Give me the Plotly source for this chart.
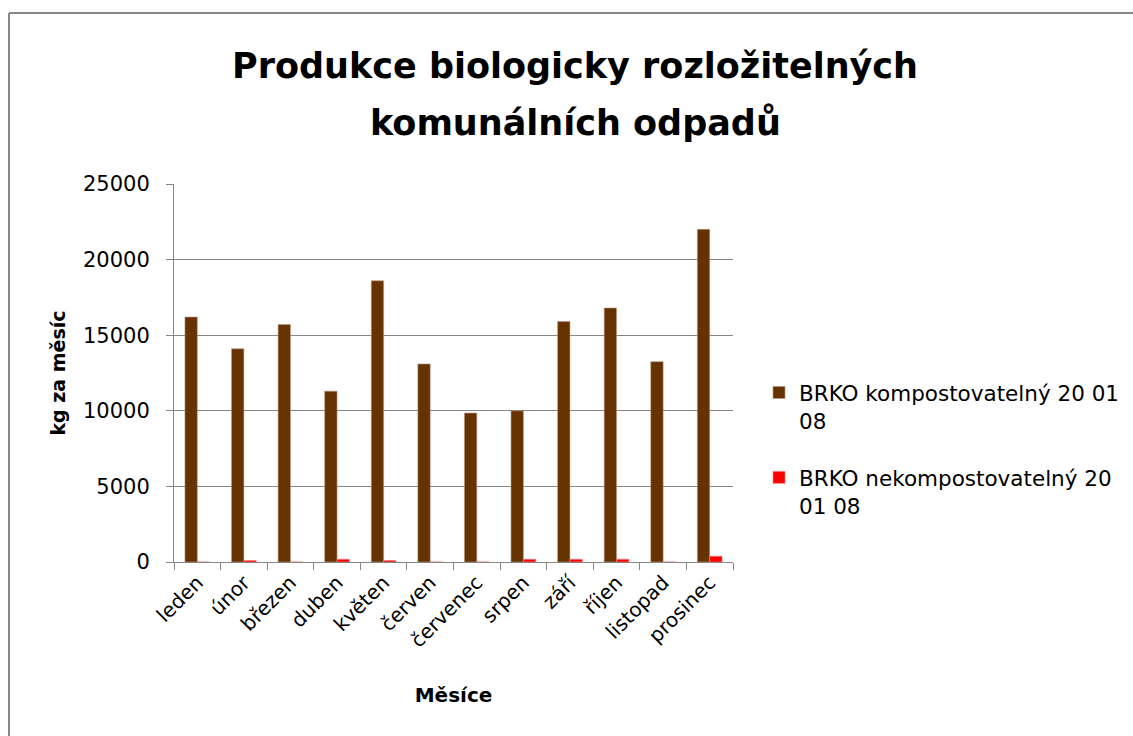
import plotly.graph_objects as go

months = ["leden", "únor", "březen", "duben", "květen", "červen", "červenec",
          "srpen", "září", "říjen", "listopad", "prosinec"]
kompost = [16200, 14100, 15700, 11300, 18600, 13100, 9850, 10000, 15900, 16800, 13250, 22000]
nekompost = [0, 100, 0, 180, 100, 0, 0, 180, 180, 180, 0, 380]
series_names = ["BRKO kompostovatelný 20 01<br>08", "BRKO nekompostovatelný 20<br>01 08"]
title_lines = ["Produkce biologicky rozložitelných", "komunálních odpadů"]
y_ticks = [0, 5000, 10000, 15000, 20000, 25000]

FONT = "DejaVu Sans, sans-serif"
GRAY = "#868686"

fig = go.Figure()
fig.add_trace(go.Bar(x=months, y=kompost, name=series_names[0], legendgroup="a",
                     marker=dict(color="#663300", line=dict(color="#b8977a", width=0.6))))
fig.add_trace(go.Bar(x=months, y=nekompost, name=series_names[1], legendgroup="b",
                     marker=dict(color="#ff0000", line=dict(color="#ff8080", width=0.6))))

# plot area in page px: x 174..733, y 184..562
L, R, T, B = 174, 733, 184, 562
PW, PH = R - L, B - T

def px(x):
    return (x - L) / PW

def py(y):
    return (B - y) / PH

fig.update_layout(
    width=1133, height=736,
    paper_bgcolor="white", plot_bgcolor="white",
    margin=dict(l=L, r=1133 - R, t=T, b=736 - B, autoexpand=False),
    barmode="group", bargap=0.47, bargroupgap=0,
    font=dict(family=FONT, color="#000000"),
    legend=dict(x=px(759), xanchor="left", y=py(372), yanchor="top",
                valign="top", font=dict(size=21.5, family=FONT, color="#000000"),
                traceorder="grouped", tracegroupgap=26,
                itemwidth=30, bgcolor="rgba(0,0,0,0)"),
    xaxis=dict(tickangle=-45, tickfont=dict(size=20, family=FONT, color="#000000"),
               showline=True, linecolor=GRAY, linewidth=1,
               ticks="outside", tickson="boundaries", ticklen=7, tickcolor=GRAY,
               title=dict(text="<b>Měsíce</b>", font=dict(size=20, family=FONT), standoff=36)),
    yaxis=dict(range=[0, 25000], tickvals=y_ticks, tickformat="d",
               tickfont=dict(size=21, family=FONT, color="#000000"),
               ticklabelstandoff=12,
               showgrid=True, gridcolor=GRAY, gridwidth=1,
               showline=True, linecolor=GRAY, linewidth=1,
               ticks="outside", ticklen=7, tickcolor=GRAY,
               zeroline=False,
               title=dict(text="<b>kg za měsíc</b>", font=dict(size=19, family=FONT), standoff=12)),
    annotations=[
        dict(text="<b>%s</b>" % title_lines[0], xref="paper", yref="paper",
             x=px(575), y=py(66), xanchor="center", yanchor="middle",
             showarrow=False, font=dict(size=35, family=FONT, color="#000000")),
        dict(text="<b>%s</b>" % title_lines[1], xref="paper", yref="paper",
             x=px(575), y=py(123), xanchor="center", yanchor="middle",
             showarrow=False, font=dict(size=35, family=FONT, color="#000000")),
    ],
    shapes=[
        dict(type="line", xref="paper", yref="paper",
             x0=px(9), x1=px(9), y0=py(13), y1=py(800),
             line=dict(color=GRAY, width=2), layer="below"),
        dict(type="line", xref="paper", yref="paper",
             x0=px(9), x1=px(1200), y0=py(13), y1=py(13),
             line=dict(color=GRAY, width=2), layer="below"),
    ],
)

fig.write_html("out.html", config={"displayModeBar": False},
               post_script="document.body.style.margin='0px';document.body.style.overflow='hidden';")
